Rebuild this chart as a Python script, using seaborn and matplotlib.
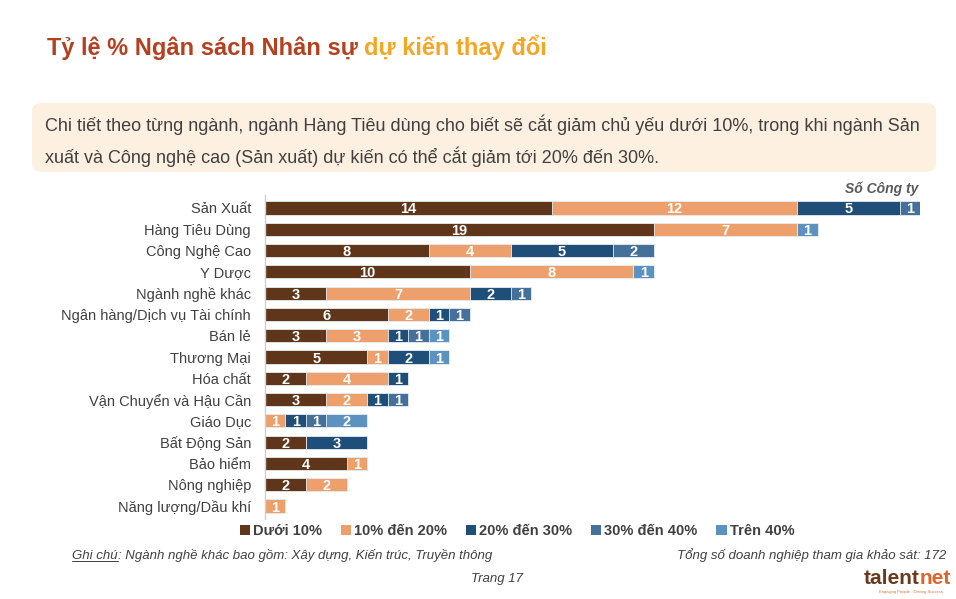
import matplotlib
matplotlib.use("Agg")
import matplotlib.pyplot as plt
from matplotlib.patches import FancyBboxPatch, Patch
import seaborn as sns
import pandas as pd
import numpy as np

# ---------------- data ----------------
industries = ["Sản Xuất", "Hàng Tiêu Dùng", "Công Nghệ Cao", "Y Dược", "Ngành nghề khác",
              "Ngân hàng/Dịch vụ Tài chính", "Bán lẻ", "Thương Mại", "Hóa chất",
              "Vận Chuyển và Hậu Cần", "Giáo Dục", "Bất Động Sản", "Bảo hiểm",
              "Nông nghiệp", "Năng lượng/Dầu khí"]
under_10 = [14, 19, 8, 10, 3, 6, 3, 5, 2, 3, 0, 2, 4, 2, 0]
p10_20 = [12, 7, 4, 8, 7, 2, 3, 1, 4, 2, 1, 0, 1, 2, 1]
p20_30 = [5, 0, 5, 0, 2, 1, 1, 2, 1, 1, 1, 3, 0, 0, 0]
p30_40 = [1, 0, 2, 0, 1, 1, 1, 0, 0, 1, 1, 0, 0, 0, 0]
over_40 = [0, 1, 0, 1, 0, 0, 1, 1, 0, 0, 2, 0, 0, 0, 0]
series_names = ["Dưới 10%", "10% đến 20%", "20% đến 30%", "30% đến 40%", "Trên 40%"]
series_colors = ["#5f3619", "#eda06b", "#1f4e79", "#44709a", "#5b92bf"]

title_a = "Tỷ lệ % Ngân sách Nhân sự "
title_b = "dự kiến thay đổi"
summary_1 = ("Chi tiết theo từng ngành, ngành Hàng Tiêu dùng cho biết sẽ cắt giảm chủ yếu dưới 10%, "
             "trong khi ngành Sản")
summary_2 = "xuất và Công nghệ cao (Sản xuất) dự kiến có thể cắt giảm tới 20% đến 30%."
unit_label = "Số Công ty"
note_label = "Ghi chú"
note_text = ": Ngành nghề khác bao gồm: Xây dựng, Kiến trúc, Truyền thông"
total_text = "Tổng số doanh nghiệp tham gia khảo sát: 172"
page_text = "Trang 17"

# ---------------- figure ----------------
sns.set_theme(style="white")
plt.rcParams["font.family"] = ["Liberation Sans", "DejaVu Sans"]

fig = plt.figure(figsize=(9.56, 5.99), dpi=100)
fig.patch.set_facecolor("white")
ax = fig.add_axes([265 / 956, 1 - 518.8 / 599, 655 / 956, (518.8 - 195.2) / 599])

values = np.array([under_10, p10_20, p20_30, p30_40, over_40], dtype=float)
cums = np.cumsum(values, axis=0)

# draw stacked bars from the full total back to the first segment
for i in range(len(series_names) - 1, -1, -1):
    df = pd.DataFrame({"industry": industries, "value": cums[i]})
    sns.barplot(data=df, x="value", y="industry", orient="h", color=series_colors[i],
                saturation=1, width=0.62, edgecolor="#e9eef3", linewidth=0.6, ax=ax)

# segment labels
for i in range(len(series_names)):
    starts = cums[i] - values[i]
    for j, v in enumerate(values[i]):
        if v > 0:
            ax.text(starts[j] + v / 2, j, f"{int(v)}", ha="center", va="center_baseline",
                    color="white", fontsize=10.5, fontweight="bold")

ax.set_xlim(0, 32)
ax.set_ylim(len(industries) - 0.4, -0.6)
ax.set_xlabel("")
ax.set_ylabel("")
ax.set_xticks([])
ax.tick_params(axis="y", length=0, pad=10, labelsize=10.5, labelcolor="#404040")
for s in ["top", "right", "bottom"]:
    ax.spines[s].set_visible(False)
ax.spines["left"].set_color("#d0d0d0")
ax.spines["left"].set_linewidth(1)
ax.set_facecolor("none")

# title (two colours)
fig.canvas.draw()
renderer = fig.canvas.get_renderer()
W = fig.bbox.width
t1 = fig.text(47 / 956, 1 - 55 / 599, title_a, fontsize=17, fontweight="bold",
              color="#b5401f", ha="left", va="baseline")
bb = t1.get_window_extent(renderer=renderer)
fig.text(bb.x1 / W, 1 - 55 / 599, title_b, fontsize=17, fontweight="bold",
         color="#f5a623", ha="left", va="baseline")

# summary box
box = FancyBboxPatch((32 / 956, 1 - 172 / 599), (936 - 32) / 956, (172 - 103) / 599,
                     boxstyle="round,pad=0,rounding_size=0.012", transform=fig.transFigure,
                     facecolor="#fdf0e1", edgecolor="none", zorder=0)
fig.patches.append(box)
fig.text(45 / 956, 1 - 131 / 599, summary_1, fontsize=13, color="#404040",
         ha="left", va="baseline")
fig.text(45 / 956, 1 - 163 / 599, summary_2, fontsize=13, color="#404040",
         ha="left", va="baseline")

# unit label
fig.text(918 / 956, 1 - 189 / 599, unit_label, fontsize=10, fontweight="bold", style="italic",
         color="#595959", ha="right", va="center")

# legend
handles = [Patch(facecolor=c, edgecolor="none") for c in series_colors]
leg = fig.legend(handles, series_names, loc="center", bbox_to_anchor=(517 / 956, 1 - 531 / 599),
                 ncol=5, frameon=False, handlelength=0.7, handleheight=0.7, handletextpad=0.2,
                 columnspacing=1.3, prop={"weight": "bold", "size": 10.5})
for t in leg.get_texts():
    t.set_color("#404040")

# footnotes
n1 = fig.text(72 / 956, 1 - 559 / 599, note_label, fontsize=9.5, style="italic", color="#404040",
              ha="left", va="baseline")
nb = n1.get_window_extent(renderer=renderer)
fig.add_artist(plt.Line2D([nb.x0 / W, nb.x1 / W],
                          [1 - 561 / 599, 1 - 561 / 599], color="#404040", lw=0.7,
                          transform=fig.transFigure))
fig.text(nb.x1 / W, 1 - 559 / 599, note_text, fontsize=9.5, style="italic",
         color="#404040", ha="left", va="baseline")
fig.text(946 / 956, 1 - 559 / 599, total_text, fontsize=9.5, style="italic", color="#404040",
         ha="right", va="baseline")
fig.text(497 / 956, 1 - 582 / 599, page_text, fontsize=9.5, style="italic", color="#404040",
         ha="center", va="baseline")

# logo as text
l2 = fig.text(951 / 956, 1 - 584 / 599, "net", fontsize=15, fontweight="bold",
              color="#e0642a", ha="right", va="baseline")
lb = l2.get_window_extent(renderer=renderer)
fig.text(lb.x0 / W, 1 - 584 / 599, "talent", fontsize=15, fontweight="bold",
         color="#6b3a1e", ha="right", va="baseline")
fig.text(911 / 956, 1 - 593 / 599, "Engaging People - Driving Success", fontsize=3,
         color="#d9743a", ha="center", va="baseline")

fig.savefig("out.png", dpi=100, facecolor="white")
